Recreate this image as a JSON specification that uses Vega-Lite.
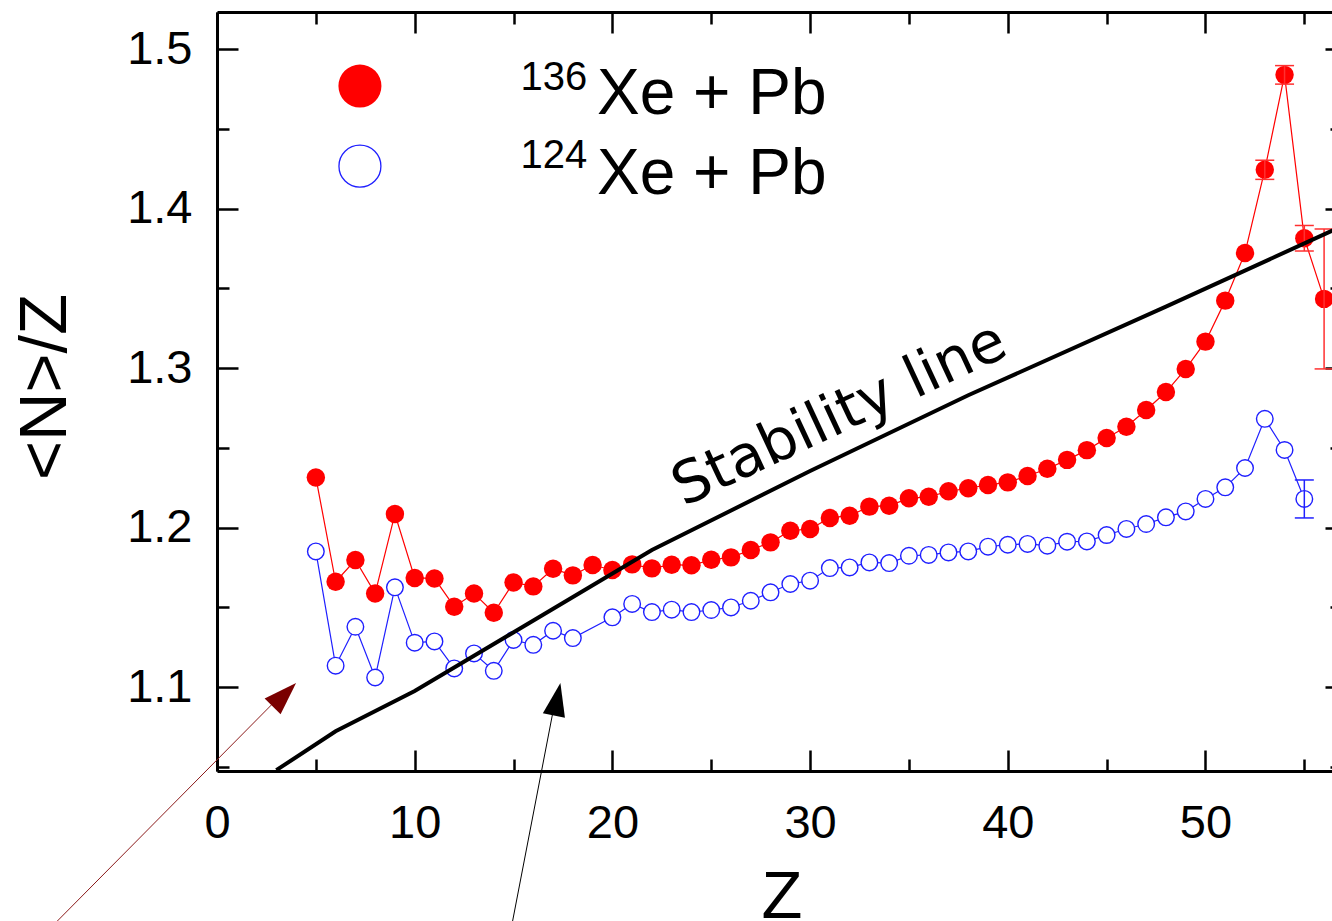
{
  "$schema": "https://vega.github.io/schema/vega-lite/v6.json",
  "width": 1115,
  "height": 759,
  "autosize": {"type": "none"},
  "padding": {"left": 217, "top": 12, "right": 0, "bottom": 150},
  "background": "white",
  "config": {"view": {"stroke": null}, "font": "Liberation Sans"},
  "datasets": {
    "pts": [
      {"Z":5,"v":1.2315,"s":"136"},{"Z":6,"v":1.1661,"s":"136"},{"Z":7,"v":1.1797,"s":"136"},{"Z":8,"v":1.1588,"s":"136"},
      {"Z":9,"v":1.2086,"s":"136"},{"Z":10,"v":1.1685,"s":"136"},{"Z":11,"v":1.1682,"s":"136"},{"Z":12,"v":1.1505,"s":"136"},
      {"Z":13,"v":1.1588,"s":"136"},{"Z":14,"v":1.1467,"s":"136"},{"Z":15,"v":1.1657,"s":"136"},{"Z":16,"v":1.1632,"s":"136"},
      {"Z":17,"v":1.1743,"s":"136"},{"Z":18,"v":1.1701,"s":"136"},{"Z":19,"v":1.1766,"s":"136"},{"Z":20,"v":1.1735,"s":"136"},
      {"Z":21,"v":1.1770,"s":"136"},{"Z":22,"v":1.1745,"s":"136"},{"Z":23,"v":1.1768,"s":"136"},{"Z":24,"v":1.1764,"s":"136"},
      {"Z":25,"v":1.1799,"s":"136"},{"Z":26,"v":1.1814,"s":"136"},{"Z":27,"v":1.1860,"s":"136"},{"Z":28,"v":1.1908,"s":"136"},
      {"Z":29,"v":1.1981,"s":"136"},{"Z":30,"v":1.1992,"s":"136"},{"Z":31,"v":1.2061,"s":"136"},{"Z":32,"v":1.2075,"s":"136"},
      {"Z":33,"v":1.2132,"s":"136"},{"Z":34,"v":1.2138,"s":"136"},{"Z":35,"v":1.2184,"s":"136"},{"Z":36,"v":1.2194,"s":"136"},
      {"Z":37,"v":1.2228,"s":"136"},{"Z":38,"v":1.2247,"s":"136"},{"Z":39,"v":1.2268,"s":"136"},{"Z":40,"v":1.2284,"s":"136"},
      {"Z":41,"v":1.2324,"s":"136"},{"Z":42,"v":1.2369,"s":"136"},{"Z":43,"v":1.2425,"s":"136"},{"Z":44,"v":1.2486,"s":"136"},
      {"Z":45,"v":1.2562,"s":"136"},{"Z":46,"v":1.2633,"s":"136"},{"Z":47,"v":1.2738,"s":"136"},{"Z":48,"v":1.2850,"s":"136"},
      {"Z":49,"v":1.2995,"s":"136"},{"Z":50,"v":1.3166,"s":"136"},{"Z":51,"v":1.3423,"s":"136"},{"Z":52,"v":1.3722,"s":"136"},
      {"Z":53,"v":1.4243,"s":"136"},{"Z":54,"v":1.4838,"s":"136"},{"Z":55,"v":1.3814,"s":"136"},{"Z":56,"v":1.3434,"s":"136"},
      {"Z":5,"v":1.1851,"s":"124"},{"Z":6,"v":1.1135,"s":"124"},{"Z":7,"v":1.1379,"s":"124"},{"Z":8,"v":1.1061,"s":"124"},
      {"Z":9,"v":1.1626,"s":"124"},{"Z":10,"v":1.1279,"s":"124"},{"Z":11,"v":1.1287,"s":"124"},{"Z":12,"v":1.1118,"s":"124"},
      {"Z":13,"v":1.1212,"s":"124"},{"Z":14,"v":1.1103,"s":"124"},{"Z":15,"v":1.1296,"s":"124"},{"Z":16,"v":1.1266,"s":"124"},
      {"Z":17,"v":1.1354,"s":"124"},{"Z":18,"v":1.1308,"s":"124"},{"Z":20,"v":1.1438,"s":"124"},
      {"Z":21,"v":1.1522,"s":"124"},{"Z":22,"v":1.1471,"s":"124"},{"Z":23,"v":1.1486,"s":"124"},{"Z":24,"v":1.1471,"s":"124"},
      {"Z":25,"v":1.1484,"s":"124"},{"Z":26,"v":1.1500,"s":"124"},{"Z":27,"v":1.1542,"s":"124"},{"Z":28,"v":1.1595,"s":"124"},
      {"Z":29,"v":1.1647,"s":"124"},{"Z":30,"v":1.1668,"s":"124"},{"Z":31,"v":1.1747,"s":"124"},{"Z":32,"v":1.1751,"s":"124"},
      {"Z":33,"v":1.1782,"s":"124"},{"Z":34,"v":1.1778,"s":"124"},{"Z":35,"v":1.1824,"s":"124"},{"Z":36,"v":1.1829,"s":"124"},
      {"Z":37,"v":1.1845,"s":"124"},{"Z":38,"v":1.1851,"s":"124"},{"Z":39,"v":1.1881,"s":"124"},{"Z":40,"v":1.1893,"s":"124"},
      {"Z":41,"v":1.1898,"s":"124"},{"Z":42,"v":1.1887,"s":"124"},{"Z":43,"v":1.1912,"s":"124"},{"Z":44,"v":1.1914,"s":"124"},
      {"Z":45,"v":1.1954,"s":"124"},{"Z":46,"v":1.1992,"s":"124"},{"Z":47,"v":1.2023,"s":"124"},{"Z":48,"v":1.2065,"s":"124"},
      {"Z":49,"v":1.2102,"s":"124"},{"Z":50,"v":1.2180,"s":"124"},{"Z":51,"v":1.2253,"s":"124"},{"Z":52,"v":1.2374,"s":"124"},
      {"Z":53,"v":1.2682,"s":"124"},{"Z":54,"v":1.2487,"s":"124"},{"Z":55,"v":1.2180,"s":"124"}
    ],
    "err": [
      {"Z":53,"lo":1.4183,"hi":1.4303,"s":"136"},
      {"Z":54,"lo":1.4780,"hi":1.4896,"s":"136"},
      {"Z":55,"lo":1.3734,"hi":1.3894,"s":"136"},
      {"Z":56,"lo":1.2995,"hi":1.3872,"s":"136"},
      {"Z":55,"lo":1.2061,"hi":1.2299,"s":"124"}
    ],
    "stab": [
      {"Z":3,"r":1.048},{"Z":6,"r":1.0724},{"Z":10,"r":1.0976},{"Z":22,"r":1.186},
      {"Z":30,"r":1.2355},{"Z":38,"r":1.283},{"Z":48,"r":1.3385},{"Z":57,"r":1.3895}
    ],
    "one": [{"k": 1}]
  },
  "resolve": {"axis": {"x": "independent", "y": "independent"}},
  "layer": [
    {
      "data": {"name": "pts"},
      "transform": [{"filter": "datum.s == '136'"}],
      "mark": {"type": "line", "color": "#ff0000", "strokeWidth": 1.2},
      "encoding": {
        "x": {"field": "Z", "type": "quantitative",
              "scale": {"domain": [0, 56.4], "nice": false, "zero": false},
              "axis": {"orient": "top", "values": [0,5,10,15,20,25,30,35,40,45,50,55], "labels": false, "title": null, "grid": false,
                       "tickSize": {"condition": {"test": "datum.value % 10 == 0", "value": -21}, "value": -12},
                       "tickWidth": 2.5, "tickColor": "black", "domainColor": "black", "domainWidth": 3}},
        "y": {"field": "v", "type": "quantitative",
              "scale": {"domain": [1.0475, 1.5232], "nice": false, "zero": false},
              "axis": {"orient": "right", "values": [1.05,1.1,1.15,1.2,1.25,1.3,1.35,1.4,1.45,1.5], "labels": false, "title": null, "grid": false, "domain": false,
                       "tickSize": {"condition": {"test": "round(datum.value*100) % 10 == 0", "value": -7}, "value": -2},
                       "tickWidth": 2.5, "tickColor": "black"}}
      }
    },
    {
      "data": {"name": "pts"},
      "transform": [{"filter": "datum.s == '136'"}],
      "mark": {"type": "point", "shape": "circle", "filled": true, "color": "#ff0000", "opacity": 1, "size": 340},
      "encoding": {
        "x": {"field": "Z", "type": "quantitative", "axis": null},
        "y": {"field": "v", "type": "quantitative", "axis": null}
      }
    },
    {
      "data": {"name": "pts"},
      "transform": [{"filter": "datum.s == '124'"}],
      "mark": {"type": "line", "color": "#1f1fff", "strokeWidth": 1.2},
      "encoding": {
        "x": {"field": "Z", "type": "quantitative", "axis": null},
        "y": {"field": "v", "type": "quantitative", "axis": null}
      }
    },
    {
      "data": {"name": "pts"},
      "transform": [{"filter": "datum.s == '124'"}],
      "mark": {"type": "point", "shape": "circle", "filled": true, "fill": "white", "stroke": "#1f1fff", "strokeWidth": 1.4, "opacity": 1, "size": 275},
      "encoding": {
        "x": {"field": "Z", "type": "quantitative", "axis": null},
        "y": {"field": "v", "type": "quantitative", "axis": null}
      }
    },
    {
      "data": {"name": "err"},
      "mark": {"type": "rule", "strokeWidth": 1.5},
      "encoding": {
        "x": {"field": "Z", "type": "quantitative", "axis": null},
        "y": {"field": "lo", "type": "quantitative", "axis": null},
        "y2": {"field": "hi"},
        "color": {"field": "s", "type": "nominal", "scale": {"domain": ["136", "124"], "range": ["#ff3030", "#2020ff"]}, "legend": null}
      }
    },
    {
      "data": {"name": "err"},
      "mark": {"type": "tick", "orient": "horizontal", "size": 19, "thickness": 1.5, "opacity": 1},
      "encoding": {
        "x": {"field": "Z", "type": "quantitative", "axis": null},
        "y": {"field": "lo", "type": "quantitative", "axis": null},
        "color": {"field": "s", "type": "nominal", "legend": null}
      }
    },
    {
      "data": {"name": "err"},
      "mark": {"type": "tick", "orient": "horizontal", "size": 19, "thickness": 1.5, "opacity": 1},
      "encoding": {
        "x": {"field": "Z", "type": "quantitative", "axis": null},
        "y": {"field": "hi", "type": "quantitative", "axis": null},
        "color": {"field": "s", "type": "nominal", "legend": null}
      }
    },
    {
      "data": {"name": "stab"},
      "mark": {"type": "line", "color": "black", "strokeWidth": 4},
      "encoding": {
        "x": {"field": "Z", "type": "quantitative",
              "axis": {"orient": "bottom", "values": [0,5,10,15,20,25,30,35,40,45,50,55], "grid": false,
                       "labelExpr": "datum.value % 10 == 0 ? datum.label : ''",
                       "tickSize": {"condition": {"test": "datum.value % 10 == 0", "value": -21}, "value": -12},
                       "tickWidth": 2.5, "tickColor": "black", "domainColor": "black", "domainWidth": 3,
                       "labelFont": "Liberation Sans", "labelFontSize": 47, "labelColor": "black", "labelPadding": 50,
                       "labelFlush": false, "labelOverlap": false, "labelBound": false,
                       "title": "Z", "titleFont": "Liberation Sans", "titleFontSize": 67, "titleFontWeight": "normal", "titleColor": "black",
                       "titleX": 564.5, "titleY": 93, "titleBaseline": "top", "titleAlign": "center", "titleAngle": 0}},
        "y": {"field": "r", "type": "quantitative",
              "axis": {"orient": "left", "values": [1.05,1.1,1.15,1.2,1.25,1.3,1.35,1.4,1.45,1.5], "grid": false,
                       "labelExpr": "round(datum.value*100) % 10 == 0 ? format(datum.value, '.1f') : ''",
                       "tickSize": {"condition": {"test": "round(datum.value*100) % 10 == 0", "value": -21}, "value": -12},
                       "tickWidth": 2.5, "tickColor": "black", "domainColor": "black", "domainWidth": 3,
                       "labelFont": "Liberation Sans", "labelFontSize": 47, "labelColor": "black", "labelPadding": 46,
                       "labelFlush": false, "labelOverlap": false, "labelBound": false,
                       "title": "<N>/Z", "titleFont": "Liberation Sans", "titleFontSize": 67, "titleFontWeight": "normal", "titleColor": "black",
                       "titleX": -138, "titleY": 374.5, "titleBaseline": "bottom", "titleAlign": "center", "titleAngle": 270}}
      }
    },
    {
      "data": {"name": "one"},
      "mark": {"type": "point", "shape": "circle", "filled": true, "color": "#ff0000", "opacity": 1, "size": 1850},
      "encoding": {"x": {"datum": 7.23, "type": "quantitative", "axis": null}, "y": {"datum": 1.4768, "type": "quantitative", "axis": null}}
    },
    {
      "data": {"name": "one"},
      "mark": {"type": "point", "shape": "circle", "filled": true, "fill": "white", "stroke": "#1f1fff", "strokeWidth": 1.3, "opacity": 1, "size": 1760},
      "encoding": {"x": {"datum": 7.23, "type": "quantitative", "axis": null}, "y": {"datum": 1.4266, "type": "quantitative", "axis": null}}
    },
    {
      "data": {"name": "one"},
      "mark": {"type": "text", "text": "136", "font": "Liberation Sans", "fontSize": 40, "align": "left", "baseline": "alphabetic", "color": "black"},
      "encoding": {"x": {"datum": 15.35, "type": "quantitative", "axis": null}, "y": {"datum": 1.4743, "type": "quantitative", "axis": null}}
    },
    {
      "data": {"name": "one"},
      "mark": {"type": "text", "text": "Xe + Pb", "font": "Liberation Sans", "fontSize": 64, "align": "left", "baseline": "alphabetic", "color": "black"},
      "encoding": {"x": {"datum": 19.22, "type": "quantitative", "axis": null}, "y": {"datum": 1.4592, "type": "quantitative", "axis": null}}
    },
    {
      "data": {"name": "one"},
      "mark": {"type": "text", "text": "124", "font": "Liberation Sans", "fontSize": 40, "align": "left", "baseline": "alphabetic", "color": "black"},
      "encoding": {"x": {"datum": 15.35, "type": "quantitative", "axis": null}, "y": {"datum": 1.4254, "type": "quantitative", "axis": null}}
    },
    {
      "data": {"name": "one"},
      "mark": {"type": "text", "text": "Xe + Pb", "font": "Liberation Sans", "fontSize": 64, "align": "left", "baseline": "alphabetic", "color": "black"},
      "encoding": {"x": {"datum": 19.22, "type": "quantitative", "axis": null}, "y": {"datum": 1.4091, "type": "quantitative", "axis": null}}
    },
    {
      "data": {"name": "one"},
      "mark": {"type": "text", "text": "Stability line", "font": "DejaVu Sans", "fontSize": 58, "align": "center", "baseline": "middle", "angle": 335, "color": "black"},
      "encoding": {"x": {"datum": 31.5, "type": "quantitative", "axis": null}, "y": {"datum": 1.2705, "type": "quantitative", "axis": null}}
    },
    {
      "data": {"name": "one"},
      "mark": {"type": "rule", "color": "#8b1a1a", "strokeWidth": 1},
      "encoding": {
        "x": {"datum": -8.09, "type": "quantitative", "axis": null}, "y": {"datum": 0.9533, "type": "quantitative", "axis": null},
        "x2": {"datum": 3.4}, "y2": {"datum": 1.097}
      }
    },
    {
      "data": {"name": "one"},
      "mark": {"type": "point", "shape": "M0,0L-0.34,1L0.34,1Z", "filled": true, "color": "#7a0000", "opacity": 1, "size": 4400, "angle": 45},
      "encoding": {"x": {"datum": 4.0, "type": "quantitative", "axis": null}, "y": {"datum": 1.1027, "type": "quantitative", "axis": null}}
    },
    {
      "data": {"name": "one"},
      "mark": {"type": "rule", "color": "black", "strokeWidth": 1},
      "encoding": {
        "x": {"datum": 14.95, "type": "quantitative", "axis": null}, "y": {"datum": 0.9533, "type": "quantitative", "axis": null},
        "x2": {"datum": 17.0}, "y2": {"datum": 1.085}
      }
    },
    {
      "data": {"name": "one"},
      "mark": {"type": "point", "shape": "M0,0L-0.34,1L0.34,1Z", "filled": true, "color": "black", "opacity": 1, "size": 4400, "angle": 11.3},
      "encoding": {"x": {"datum": 17.37, "type": "quantitative", "axis": null}, "y": {"datum": 1.1027, "type": "quantitative", "axis": null}}
    }
  ]
}
